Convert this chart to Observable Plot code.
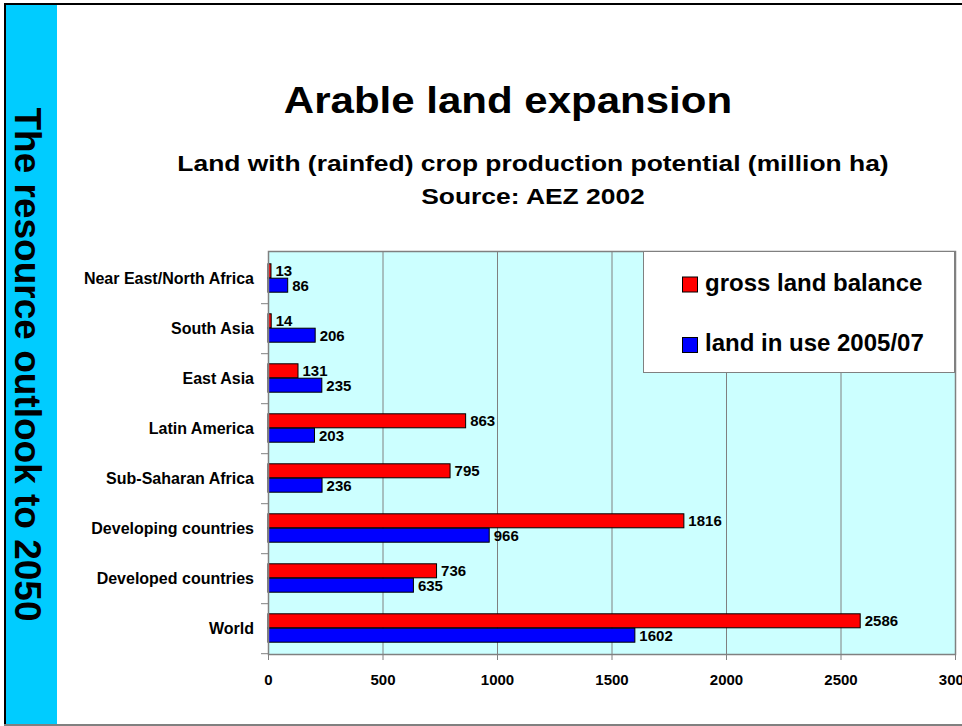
<!DOCTYPE html>
<html>
<head>
<meta charset="utf-8">
<script src="https://cdn.jsdelivr.net/npm/d3@7"></script>
<script src="https://cdn.jsdelivr.net/npm/@observablehq/plot@0.6"></script>
<style>
  html, body { margin: 0; padding: 0; background: #fff; overflow: hidden; }
  #page { position: relative; width: 962px; height: 726px; font-family: "Liberation Sans", Arial, sans-serif; color: #000; background: #fff; }
  .abs { position: absolute; }
  #sidebar { left: 6px; top: 5px; width: 51px; height: 720px; background: #00ccff; }
  #topline { left: 4px; top: 3px; width: 958px; height: 2px; background: #000; }
  #leftline { left: 4px; top: 3px; width: 2px; height: 723px; background: #000; }
  #bottomline { left: 4px; top: 724px; width: 958px; height: 2px; background: #808080; }
  #title { left: 207.5px; width: 600px; top: 82.8px; line-height: 36px; font-size: 36px; font-weight: bold; text-align: center; transform: scaleX(1.167); transform-origin: center; white-space: nowrap; }
  #subtitle { left: 132.5px; width: 800px; top: 146.6px; line-height: 33px; font-size: 22px; font-weight: bold; text-align: center; transform: scaleX(1.2); transform-origin: center; white-space: nowrap; }
  #chart { left: 0; top: 0; width: 962px; height: 726px; }
  #chart svg { max-width: none !important; }
  #decor { left: 0; top: 0; pointer-events: none; }
</style>
</head>
<body>
<div id="page">
  <div class="abs" id="sidebar"></div>
  <div class="abs" id="chart"></div>
  <div class="abs" id="topline"></div>
  <div class="abs" id="leftline"></div>
  <div class="abs" id="bottomline"></div>
  <div class="abs" id="title"></div>
  <div class="abs" id="subtitle"></div>
  <svg class="abs" id="decor" width="962" height="726"></svg>
</div>
<script>
// ---- Data ----
const categories = [
  "Near East/North Africa",
  "South Asia",
  "East Asia",
  "Latin America",
  "Sub-Saharan Africa",
  "Developing countries",
  "Developed countries",
  "World"
];
const grossLandBalance = [13, 14, 131, 863, 795, 1816, 736, 2586];
const landInUse = [86, 206, 235, 203, 236, 966, 635, 1602];
const seriesNames = ["gross land balance", "land in use 2005/07"];
const seriesColors = ["#ff0000", "#0000ff"];
const xTicks = [0, 500, 1000, 1500, 2000, 2500, 3000];
const titleText = "Arable land expansion";
const subtitleLines = ["Land with (rainfed) crop production potential (million ha)", "Source: AEZ 2002"];
const sideText = "The resource outlook to 2050";

// ---- Build tables ----
const gross = categories.map((c, i) => ({category: c, value: grossLandBalance[i], series: seriesNames[0]}));
const inUse = categories.map((c, i) => ({category: c, value: landInUse[i], series: seriesNames[1]}));

const font = "'Liberation Sans', Arial, sans-serif";

const chart = Plot.plot({
  width: 962,
  height: 726,
  marginLeft: 268,
  marginRight: 7,
  marginTop: 251,
  marginBottom: 72,
  style: {fontFamily: font, fontSize: "15px", fontWeight: "bold", background: "transparent", color: "#000", maxWidth: "none"},
  x: {domain: [0, 3000], label: null},
  y: {domain: categories, padding: 0, label: null},
  marks: [
    Plot.frame({fill: "#ccffff"}),
    Plot.gridX(xTicks.slice(1, -1), {stroke: "#808080", strokeOpacity: 1, strokeWidth: 1}),
    Plot.barX(gross, {x: "value", y: "category", fill: seriesColors[0], stroke: "#000", strokeWidth: 1, insetTop: 10.8, insetBottom: 25.2}),
    Plot.barX(inUse, {x: "value", y: "category", fill: seriesColors[1], stroke: "#000", strokeWidth: 1, insetTop: 25.2, insetBottom: 10.8}),
    Plot.text(gross, {x: "value", y: "category", text: d => String(d.value), dx: 4, dy: -7, textAnchor: "start", fill: "#000"}),
    Plot.text(inUse, {x: "value", y: "category", text: d => String(d.value), dx: 4, dy: 8, textAnchor: "start", fill: "#000"}),
    Plot.frame({stroke: "#808080", strokeWidth: 1.5}),
    Plot.axisX({ticks: xTicks, tickSize: 6, tickPadding: 14, stroke: "#808080", fill: "#000", label: null, tickFormat: d => String(d)}),
    Plot.axisY({tickSize: 0, tickPadding: 14.5, fill: "#000", fontSize: 16, label: null}),
    Plot.axisY({tickSize: 7, stroke: "#808080", dy: 25.2, label: null, tickFormat: () => ""})
  ]
});
chart.style.position = "absolute";
chart.style.left = "0px";
chart.style.top = "0px";
document.getElementById("chart").appendChild(chart);

// ---- Titles ----
document.getElementById("title").textContent = titleText;
const sub = document.getElementById("subtitle");
subtitleLines.forEach((line, i) => {
  if (i > 0) sub.appendChild(document.createElement("br"));
  sub.appendChild(document.createTextNode(line));
});

// ---- Legend & side text ----
const decor = d3.select("#decor");
decor.append("rect")
  .attr("x", 643.5).attr("y", 251.5).attr("width", 311).attr("height", 121)
  .attr("fill", "#fff").attr("stroke", "#808080").attr("stroke-width", 1);
const legendY = [290.5, 351];
seriesNames.forEach((name, i) => {
  decor.append("rect")
    .attr("x", 682.5).attr("y", legendY[i] - 13.5).attr("width", 15).attr("height", 15)
    .attr("fill", seriesColors[i]).attr("stroke", "#000").attr("stroke-width", 1);
  decor.append("text")
    .attr("x", 705).attr("y", legendY[i])
    .attr("font-family", font).attr("font-size", 24).attr("font-weight", "bold")
    .attr("fill", "#000")
    .text(name);
});
decor.append("text")
  .attr("transform", "translate(15,364.5) rotate(90)")
  .attr("text-anchor", "middle")
  .attr("font-family", font).attr("font-size", 37).attr("font-weight", "bold")
  .attr("fill", "#000")
  .text(sideText);
</script>
</body>
</html>
